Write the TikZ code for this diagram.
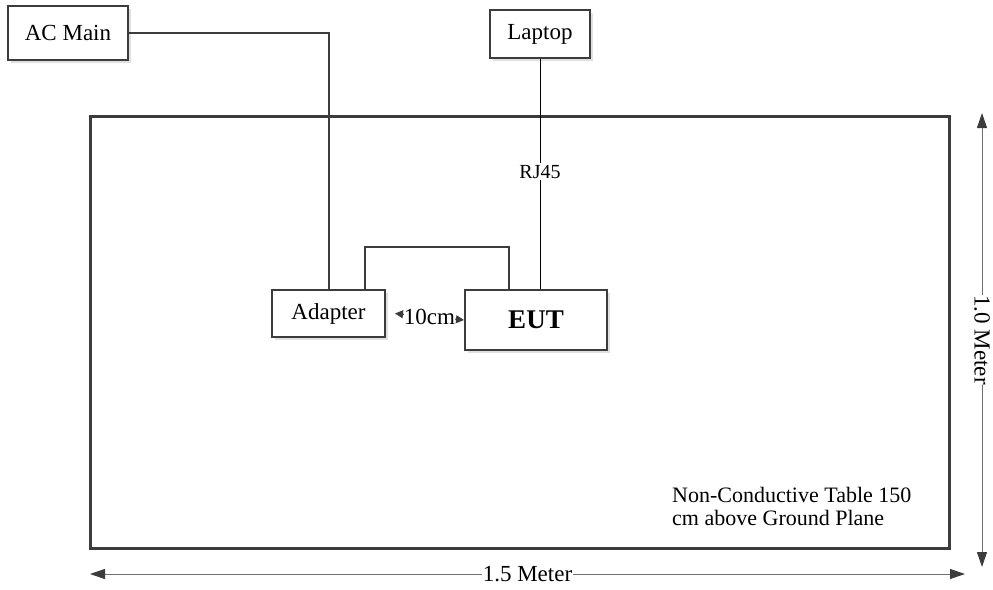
\documentclass[tikz,border=0pt]{standalone}
\usepackage{fontspec}
\setmainfont{Liberation Serif}
\usetikzlibrary{arrows.meta,positioning,calc,shadows}
\definecolor{Ink}{HTML}{3C3C3C}
\definecolor{Dim}{HTML}{707070}
\tikzset{
  unitbox/.style={draw=Ink,line width=2pt,fill=white,inner sep=0pt,
    font=\fontsize{23}{27}\selectfont,
    drop shadow={shadow xshift=2.5pt,shadow yshift=-2.5pt,fill=black!12,opacity=1}},
  wire/.style={Ink,line width=2pt},
  thinwire/.style={black,line width=0.9pt},
  dimline/.style={Dim,line width=1pt,{Triangle[length=15pt,width=10pt,color=Ink]}-{Triangle[length=15pt,width=10pt,color=Ink]}},
  dimlabel/.style={fill=white,inner sep=0.5pt,text=black,font=\fontsize{23}{27}\selectfont},
}

\begin{document}
\begin{tikzpicture}[x=1pt,y=-1pt,>=stealth]
\useasboundingbox (0,0) rectangle (993,589);
% table
\coordinate (tl) at (90,116);
\coordinate (br) at (949,548);
\draw[Ink,line width=3pt] (tl) rectangle (br);
% units
\node[unitbox,minimum width=120,minimum height=54] (acmain) at (68,33) {AC Main};
\node[unitbox,minimum width=100,minimum height=48] (laptop) at (540,34) {Laptop};
\node[unitbox,minimum width=113,minimum height=47] (adapter) at (328.5,313.5) {Adapter};
\node[unitbox,minimum width=142,minimum height=60,font=\bfseries\fontsize{27}{31}\selectfont] (eut) at (536,320) {EUT};
% cables
\draw[wire] (acmain.east) -| (adapter.north);
\draw[wire] ([xshift=36pt]adapter.north) -- ++(0,-42) -| ([xshift=-27pt]eut.north);
\draw[thinwire] (laptop.south) -- node[pos=0.49,fill=white,inner sep=2pt,font=\fontsize{20}{24}\selectfont] {RJ45} (laptop.south |- eut.north);
\draw[Ink,line width=1pt,{Triangle[length=8pt,width=8pt]}-{Triangle[length=8pt,width=8pt]}]
  ([xshift=9pt]adapter.east) -- node[fill=white,inner sep=0pt,text=black,font=\fontsize{23}{27}\selectfont] {10cm} (eut.west);
% dimensions
\coordinate (hl) at (90,574);
\coordinate (hr) at (965,574);
\coordinate (vt) at (982,113);
\coordinate (vb) at (982,567);
\draw[dimline] (hl) -- node[dimlabel] {1.5 Meter} (hr);
\draw[dimline] (vt) -- node[dimlabel,inner sep=0pt,rotate=-90] {1.0 Meter} (vb);
% note
\node[anchor=north west,align=left,inner sep=0pt,font=\fontsize{22}{23.5}\selectfont] (note) at (672,487) {Non-Conductive Table 150\\cm above Ground Plane};
\end{tikzpicture}
\end{document}
